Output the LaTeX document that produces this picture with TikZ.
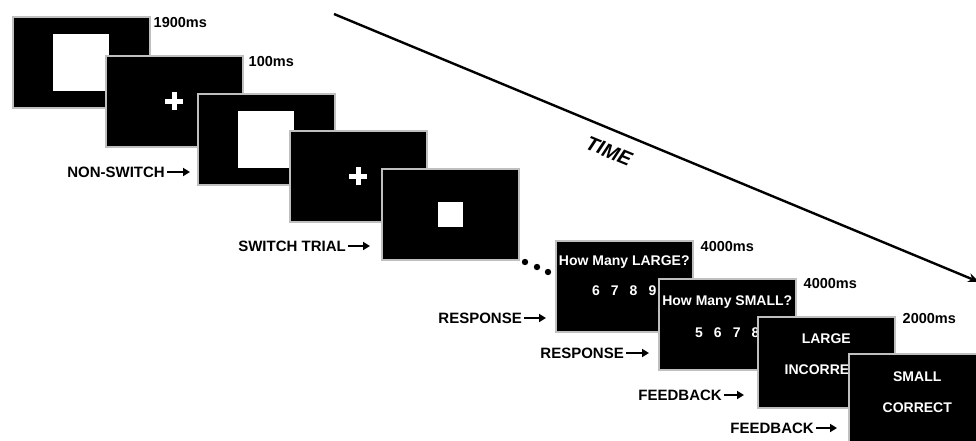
\documentclass[tikz,border=0pt]{standalone}
\usepackage{fontspec}
\setmainfont{Liberation Sans}
\usetikzlibrary{arrows.meta}

\tikzset{
  screen/.style={draw=gray!50, line width=1.5pt, fill=black, minimum width=137pt, minimum height=91pt, anchor=north west, inner sep=0pt},
  dur/.style={anchor=west, inner sep=0pt, font=\fontsize{14.5}{16}\selectfont\bfseries},
  cue/.style={anchor=east, inner sep=0pt, font=\fontsize{15}{17}\selectfont\bfseries},
  txt/.style={text=white, inner sep=0pt, font=\fontsize{14}{16}\selectfont\bfseries},
  bigsq/.style={fill=white, inner sep=0pt, minimum width=56pt, minimum height=57pt},
  smallsq/.style={fill=white, inner sep=0pt, minimum size=25pt},
  arr/.style={-{Triangle[length=7pt,width=8pt]}, line width=2.2pt, shorten <=2pt},
}

\begin{document}
\begin{tikzpicture}[x=1pt, y=-1pt]
  \useasboundingbox (0,0) rectangle (976,440);

  \coordinate (ts) at (334,14);
  \coordinate (te) at (979,282);
  \draw[line width=2.4pt, -{Stealth[length=11pt,width=9pt]}] (ts) -- (te);
  \node[rotate=-22.5, font=\fontsize{20}{22}\selectfont\bfseries\itshape] (tl) at (609,151) {TIME};

  \node[screen] (s1) at (12,16) {};
  \node[bigsq] (q1) at (s1) {};
  \node[dur] (d1) at ([xshift=3pt,yshift=-7pt]s1.north east) {1900ms};

  \node[screen] (s2) at (105,55) {};
  \draw[white, line width=4.5pt] ([xshift=-9pt]s2.center) -- ([xshift=9pt]s2.center)
    ([yshift=-9pt]s2.center) -- ([yshift=9pt]s2.center);
  \node[dur] (d2) at ([xshift=5pt,yshift=-7pt]s2.north east) {100ms};

  \node[screen] (s3) at (197,93) {};
  \node[bigsq] (q3) at (s3) {};

  \node[screen] (s4) at (289,130) {};
  \draw[white, line width=4.5pt] ([xshift=-9pt]s4.center) -- ([xshift=9pt]s4.center)
    ([yshift=-9pt]s4.center) -- ([yshift=9pt]s4.center);

  \node[screen] (s5) at (381,168) {};
  \node[smallsq] (q5) at (s5) {};

  \foreach \x/\y in {525/262, 537/267, 548/272}
    \fill (\x,\y) circle (3.2pt);

  \node[screen] (s6) at (555,240) {};
  \node[txt] (h6) at ([yshift=-22pt]s6.north) {How Many LARGE?};
  \node[txt] (n6) at ([yshift=-51pt]s6.north) {6\hspace{11pt}7\hspace{11pt}8\hspace{11pt}9};
  \node[dur] (d6) at ([xshift=7pt,yshift=-7pt]s6.north east) {4000ms};

  \node[screen] (s7) at (658,278) {};
  \node[txt] (h7) at ([yshift=-24pt]s7.north) {How Many SMALL?};
  \node[txt] (n7) at ([yshift=-55pt]s7.north) {5\hspace{11pt}6\hspace{11pt}7\hspace{11pt}8};
  \node[dur] (d7) at ([xshift=7pt,yshift=-5pt]s7.north east) {4000ms};

  \node[screen] (s8) at (757,316) {};
  \node[txt] (f8) at ([yshift=-23pt]s8.north) {LARGE};
  \node[txt] (r8) at ([yshift=-54pt]s8.north) {INCORRECT};
  \node[dur] (d8) at ([xshift=7pt,yshift=-2pt]s8.north east) {2000ms};

  \node[screen] (s9) at (848,353) {};
  \node[txt] (f9) at ([yshift=-24pt]s9.north) {SMALL};
  \node[txt] (r9) at ([yshift=-55pt]s9.north) {CORRECT};

  \node[cue] (c1) at (165,172) {NON-SWITCH};
  \node[cue] (c2) at (346,246) {SWITCH TRIAL};
  \node[cue] (c3) at (522,318) {RESPONSE};
  \node[cue] (c4) at (624,353) {RESPONSE};
  \node[cue] (c5) at (722,395) {FEEDBACK};
  \node[cue] (c6) at (814,428) {FEEDBACK};
  \draw[arr, shorten >=7pt] (c1.east) -- (c1.east -| s3.west);
  \draw[arr, shorten >=11pt] (c2.east) -- (c2.east -| s5.west);
  \draw[arr, shorten >=9pt] (c3.east) -- (c3.east -| s6.west);
  \draw[arr, shorten >=9pt] (c4.east) -- (c4.east -| s7.west);
  \draw[arr, shorten >=13pt] (c5.east) -- (c5.east -| s8.west);
  \draw[arr, shorten >=11pt] (c6.east) -- (c6.east -| s9.west);
\end{tikzpicture}
\end{document}
